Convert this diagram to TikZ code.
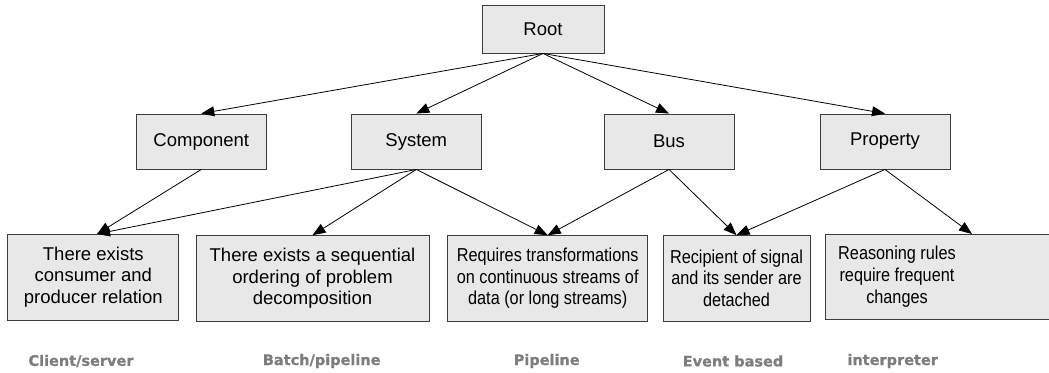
\documentclass[tikz,border=0pt]{standalone}
\usepackage{fontspec}
\setmainfont{Liberation Sans}
\newfontfamily\condfont[FakeStretch=0.87]{Liberation Sans}
\newfontfamily\labfont[BoldFeatures={FakeBold=0.8}]{DejaVu Sans}
\usetikzlibrary{arrows.meta}
\definecolor{boxfill}{RGB}{232,232,232}
\definecolor{boxline}{RGB}{60,60,60}
\definecolor{labgray}{RGB}{125,125,125}
\begin{document}
\begin{tikzpicture}[x=1pt,y=-1pt,
  box/.style={draw=boxline,fill=boxfill,line width=0.9pt,inner sep=0pt,align=center,
    font=\fontsize{18.5}{21.7}\selectfont},
  small/.style={font=\condfont\fontsize{18.7}{21.7}\selectfont},
  conn/.style={line width=0.8pt,-{Triangle[length=13pt,width=10pt]}},
  lab/.style={text=labgray,font=\labfont\bfseries\fontsize{14.5}{17}\selectfont,inner sep=0pt}]
\useasboundingbox (0,0) rectangle (1049,372);
\node[box,minimum width=122pt,minimum height=48pt] (root) at (543,29) {Root};
\node[box,minimum width=129.5pt,minimum height=55pt] (comp) at (201.3,141.5) {Component};
\node[box,minimum width=129.5pt,minimum height=55pt] (sys) at (416.3,141.5) {System};
\node[box,minimum width=130pt,minimum height=55pt] (bus) at (669,141.5) {Bus};
\node[box,minimum width=130pt,minimum height=55pt] (prop) at (885,141.5) {Property};
\node[box,minimum width=171pt,minimum height=86pt] (b1) at (93.3,277) {There exists\\consumer and\\producer relation};
\node[box,minimum width=233pt,minimum height=85.3pt] (b2) at (312.5,278.3) {There exists a sequential\\ordering of problem\\decomposition};
\node[box,small,minimum width=200pt,minimum height=85.3pt] (b3) at (547.7,278.3) {Requires transformations\\on continuous streams of\\data (or long streams)};
\node[box,small,minimum width=147pt,minimum height=85.3pt] (b4) at (736.5,278.3) {Recipient of signal\\and its sender are\\detached};
\node[box,minimum width=240pt,minimum height=85pt] (b5) at (945,276.5) {};
\node[small,align=center,inner sep=0pt] (b5t) at (897,276.5) {Reasoning rules\\require frequent\\changes};
\coordinate (b5top) at (972,234);
\coordinate (b1top) at (97,234);
\draw[conn] (root.south) -- (comp.north);
\draw[conn] (root.south) -- (sys.north);
\draw[conn] (root.south) -- (bus.north);
\draw[conn] (root.south) -- (prop.north);
\draw[conn] (comp.south) -- (b1top);
\draw[conn] (sys.south) -- (b1top);
\draw[conn] (sys.south) -- (b2.north);
\draw[conn] (sys.south) -- (b3.north);
\draw[conn] (bus.south) -- (b3.north);
\draw[conn] (bus.south) -- (b4.north);
\draw[conn] (prop.south) -- (b4.north);
\draw[conn] (prop.south) -- (b5top);
\node[lab] (l1) at (81,361) {Client/server};
\node[lab] (l2) at (321.7,361) {Batch/pipeline};
\node[lab] (l3) at (546.7,361) {Pipeline};
\node[lab] (l4) at (733,361) {Event based};
\node[lab] (l5) at (892.7,361) {interpreter};
\end{tikzpicture}
\end{document}
